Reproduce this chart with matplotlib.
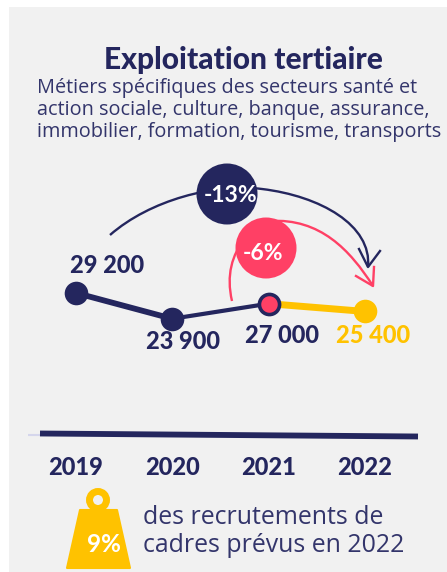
import matplotlib
matplotlib.use("Agg")
import matplotlib.pyplot as plt
from matplotlib.patches import Rectangle, Circle, Polygon, PathPatch
from matplotlib.path import Path

plt.rcParams['font.family'] = ['Lato', 'DejaVu Sans']

years = [2019, 2020, 2021, 2022]
values = [29200, 23900, 27000, 25400]
value_labels = ['29 200', '23 900', '27 000', '25 400']
title = 'Exploitation tertiaire'
subtitle = ['Métiers spécifiques des secteurs santé et',
            'action sociale, culture, banque, assurance,',
            'immobilier, formation, tourisme, transports']
evol_all = '-13%'
evol_last = '-6%'
share = '9%'
share_text = ['des recrutements de', 'cadres prévus en 2022']

NAVY = '#24265e'
PINK = '#ff4065'
YELLOW = '#ffc200'
SOFT = '#33356b'
LIGHT_FONT = ['Open Sans', 'DejaVu Sans']
W, H = 447, 572

fig = plt.figure(figsize=(W / 100, H / 100), dpi=100, facecolor='white')

# pixel layer for the decoration
bg = fig.add_axes([0, 0, 1, 1], zorder=0)
bg.set_xlim(0, W)
bg.set_ylim(H, 0)
bg.axis('off')
bg.add_patch(Rectangle((9, 7), W - 9, H - 7, fc='#f1f1f1', ec='none'))

# data layer, zero sits on the base line
ax = fig.add_axes([0, (H - 435) / H, 1, 435 / H], zorder=1)
ax.patch.set_alpha(0)
ax.set_xlim(2019 - 76 / 96.3, 2019 + (W - 76) / 96.3)
ax.set_ylim(0, 435 * 205.6)
for s in ax.spines.values():
    s.set_visible(False)
ax.set_yticks([])
ax.set_xticks(years)
ax.set_xticklabels(years, fontsize=17, fontweight='black', color=NAVY)
ax.tick_params(axis='x', length=0, pad=15)

# top layer for the bubbles
top = fig.add_axes([0, 0, 1, 1], zorder=2)
top.set_xlim(0, W)
top.set_ylim(H, 0)
top.axis('off')

txt = lambda a, x, y, s, **kw: a.text(x, y, s, va='center', **kw)

txt(bg, 243, 60, title, ha='center', fontsize=21.5, fontweight='black', color=NAVY)
for y, line in zip([88, 110, 132], subtitle):
    txt(bg, 37, y, line, ha='left', fontsize=14.3, color=SOFT, family=LIGHT_FONT)

# base line
bg.plot([28, 40], [435, 435], color='#d5d6ec', lw=1.5, solid_capstyle='butt')
bg.plot([40, 418], [433.5, 436.5], color=NAVY, lw=4.2, solid_capstyle='butt')

# series
ax.plot(years[:2], values[:2], color=NAVY, lw=4.2, solid_capstyle='round')
ax.plot(years[1:3], values[1:3], color=NAVY, lw=3, solid_capstyle='round')
ax.plot(years[2:], values[2:], color=YELLOW, lw=5, solid_capstyle='butt')
ax.plot(years[:2], values[:2], 'o', ms=17, color=NAVY, mec='none')
ax.plot(years[2], values[2], 'o', ms=14.5, mfc=PINK, mec=NAVY, mew=2.6)
ax.plot(years[3], values[3], 'o', ms=17, color=YELLOW, mec='none')

label_off = [(31, -27), (11, 23), (13, 32), (8, 24)]
label_col = [NAVY, NAVY, NAVY, YELLOW]
for yr, v, lab, off, c in zip(years, values, value_labels, label_off, label_col):
    ax.annotate(lab, (yr, v), xytext=(off[0] * .72, -off[1] * .72), textcoords='offset points',
                ha='center', va='center', fontsize=17, fontweight='black', color=c)

# arrows
C = Path.CURVE4
arc1 = Path([(110, 235), (150, 200), (215, 183), (262, 189), (320, 196), (372, 225), (368, 267)],
            [Path.MOVETO, C, C, C, C, C, C])
arc2 = Path([(232, 301), (226, 275), (232, 255), (245, 238), (250, 230), (258, 222), (270, 221),
             (320, 218), (350, 250), (373, 286)],
            [Path.MOVETO, C, C, C, C, C, C, C, C, C])
bg.add_patch(PathPatch(arc1, fc='none', ec=NAVY, lw=1.7))
bg.add_patch(PathPatch(arc2, fc='none', ec=PINK, lw=1.7))
bg.plot([359, 368, 380], [249, 267, 251], color=NAVY, lw=1.7)
bg.plot([356, 373, 374], [276, 286, 267], color=PINK, lw=1.7)

top.add_patch(Circle((227, 194), 30.5, fc=NAVY, ec='none'))
top.add_patch(Circle((266, 248), 30.5, fc=PINK, ec='none'))
txt(top, 231, 196, evol_all, ha='center', fontsize=16.5, fontweight='bold', color='white')
txt(top, 263, 253, evol_last, ha='center', fontsize=16.5, fontweight='bold', color='white')

# weight
bg.add_patch(Circle((98, 500), 8.5, fc='none', ec=YELLOW, lw=5))
bg.add_patch(Polygon([(80, 510), (117, 510), (130, 568), (67, 568)], closed=True,
                     fc=YELLOW, ec=YELLOW, lw=1.5, joinstyle='round'))
txt(bg, 104, 544, share, ha='center', fontsize=17.5, fontweight='bold', color='white')
for y, line in zip([517, 546], share_text):
    txt(bg, 143, y, line, ha='left', fontsize=17.9, color=SOFT, family=LIGHT_FONT)

fig.savefig('out.png', dpi=100)
